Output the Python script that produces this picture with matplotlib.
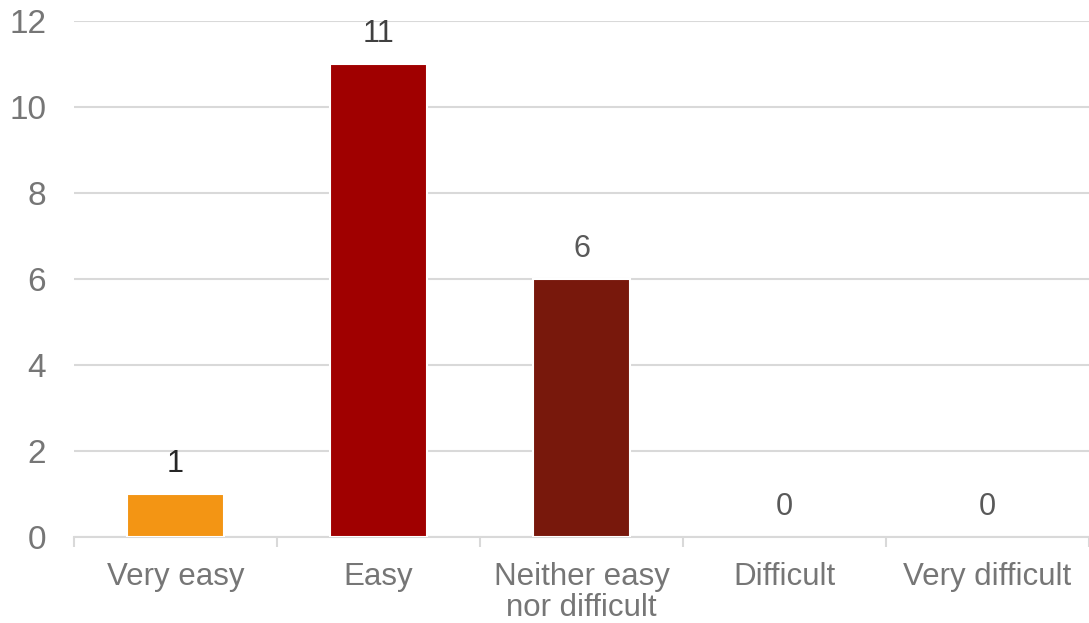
import matplotlib.pyplot as plt
import numpy as np

categories = ["Very easy", "Easy", "Neither easy\nnor difficult", "Difficult", "Very difficult"]
counts = [1, 11, 6, 0, 0]
bar_colors = ["#F39514", "#A00000", "#78180C", "#A00000", "#A00000"]
label_colors = ["#262626", "#404040", "#595959", "#595959", "#595959"]

plt.rcParams['font.family'] = ['Liberation Sans', 'DejaVu Sans']

fig = plt.figure(figsize=(10.89, 6.23), dpi=100)
ax = fig.add_axes([0.068, 0.138, 0.932, 0.828])

x = np.arange(len(categories))
edge_widths = [1.5 if v > 0 else 0 for v in counts]
ax.bar(x, counts, width=0.48, color=bar_colors, edgecolor="white",
       linewidth=edge_widths, zorder=3)

for xi, v, c in zip(x, counts, label_colors):
    ax.annotate(str(v), (xi, v), xytext=(0, 11), textcoords="offset points",
                ha="center", va="bottom", fontsize=22, color=c)

ax.set_xlim(-0.5, len(categories) - 0.5)
ax.set_ylim(0, 12)
ax.set_yticks(range(0, 13, 2))
ax.yaxis.grid(True, color="#d9d9d9", linewidth=1.5, zorder=0)
ax.set_axisbelow(True)

ax.set_xticks(x)
ax.set_xticklabels(categories, fontsize=22.5, color="#767676", linespacing=1.05)
ax.set_xticks(np.arange(-0.5, len(categories), 1.0), minor=True)
ax.tick_params(axis="x", which="major", length=0, pad=18)
ax.tick_params(axis="x", which="minor", length=7, width=1.5, color="#d9d9d9")
ax.tick_params(axis="y", length=0, labelsize=24, labelcolor="#767676", pad=20)

for s in ["top", "right", "left"]:
    ax.spines[s].set_visible(False)
ax.spines["bottom"].set_color("#d9d9d9")
ax.spines["bottom"].set_linewidth(1.5)

fig.savefig("out.png", dpi=100)
